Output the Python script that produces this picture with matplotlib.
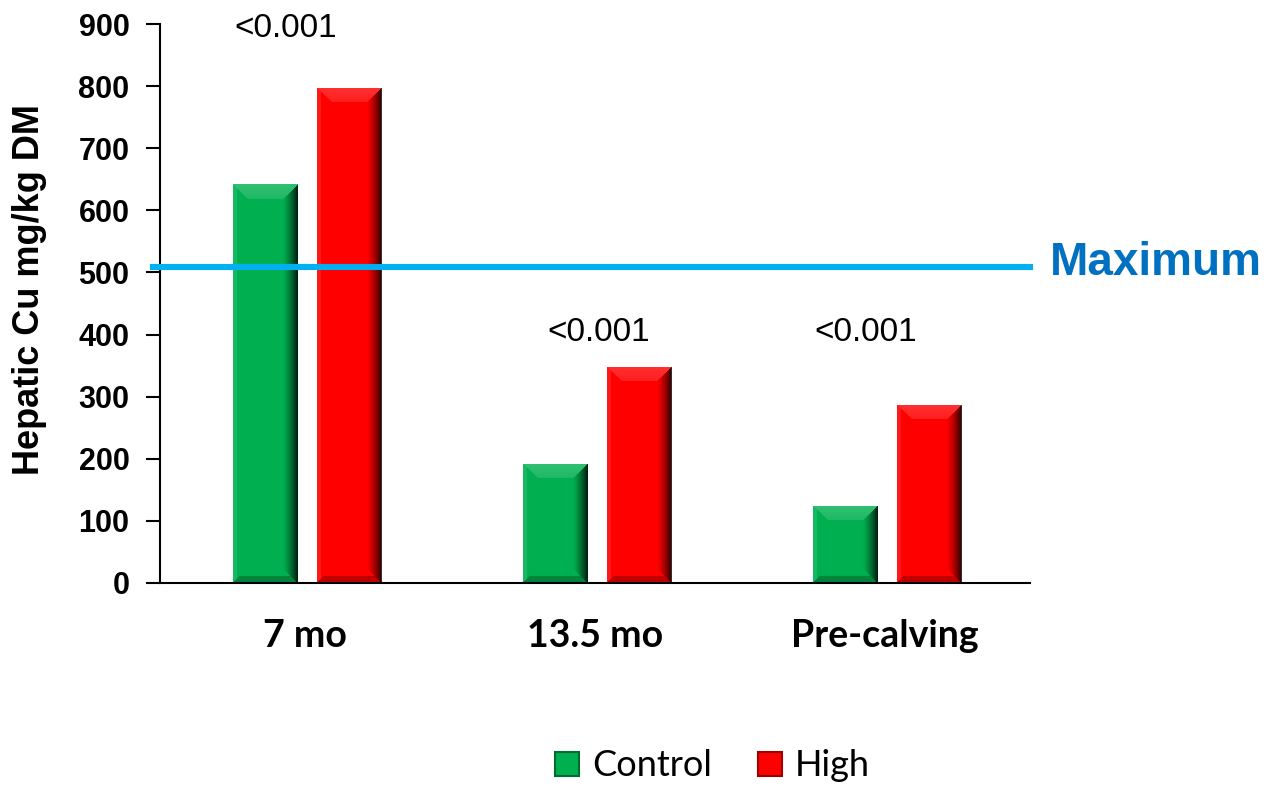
import matplotlib
matplotlib.use('Agg')
import matplotlib.pyplot as plt
from matplotlib.lines import Line2D
import numpy as np

plt.rcParams['font.family'] = ['Liberation Sans', 'DejaVu Sans']

# hepatic copper, mg/kg DM
stages = ['7 mo', '13.5 mo', 'Pre-calving']
control = [642, 192, 124]
high = [797, 348, 287]
p_values = ['<0.001', '<0.001', '<0.001']
maximum = 508
groups = ['Control', 'High']

GREEN = '#00B050'
RED = '#FF0000'


def bevel(ax, x0, width, height, z):
    # shaded edges laid over a bar: light top facet, dark right side and base
    x1 = x0 + width
    p0 = ax.transData.transform((x0, 0))
    p1 = ax.transData.transform((x1, height))
    wpx = max(int(round(p1[0] - p0[0])), 2)
    hpx = max(int(round(p1[1] - p0[1])), 2)
    xx, yy = np.meshgrid(np.arange(wpx) + 0.5, np.arange(hpx) + 0.5)
    dl, dr = xx, wpx - xx
    dt, db = yy, hpx - yy
    D = 15.0
    img = np.zeros((hpx, wpx, 4))
    top = (dt < D) & (dt <= dl) & (dt <= dr)
    right = ~top & (dr < D) & (dr <= db)
    bottom = ~top & ~right & (db < 7) & (db <= dl)
    left = ~top & ~right & ~bottom & (dl < 4)
    img[top, :3] = 1.0
    img[top, 3] = 0.12 + 0.08 * (1 - dt[top] / D)
    img[right, 3] = 0.85 * (1 - dr[right] / D) ** 1.3
    img[bottom, 3] = 0.25
    img[left, :3] = 1.0
    img[left, 3] = 0.10
    ax.imshow(img, extent=(x0, x1, 0, height), origin='upper',
              aspect='auto', interpolation='bilinear', zorder=z)


fig = plt.figure(figsize=(12.68, 7.88), dpi=100)
ax = fig.add_axes([160 / 1268, 1 - 583 / 788, 870 / 1268, 559 / 788])
ax.set_xlim(-0.5, len(stages) - 0.5)
ax.set_ylim(0, 900)

x = np.arange(len(stages))
off = 0.144
bw = 0.222
shift = 0.008
b1 = ax.bar(x + shift - off, control, bw, color=GREEN, zorder=2)
b2 = ax.bar(x + shift + off, high, bw, color=RED, zorder=2)
for bars in (b1, b2):
    for r in bars:
        bevel(ax, r.get_x(), r.get_width(), r.get_height(), 2.5)

ax.set_xlim(-0.5, len(stages) - 0.5)
ax.set_ylim(0, 900)

# maximum tolerable level
ax.axhline(maximum, xmin=-0.008, xmax=1.0, color='#00B0F0', lw=4.4,
           zorder=4, clip_on=False)
ax.text(1.023, maximum - 12, 'Maximum', transform=ax.get_yaxis_transform(),
        color='#0070C0', fontsize=33, fontweight='bold', va='baseline',
        ha='left')

p_pos = [(-0.066, 893), (0.014, 404), (-0.066, 404)]
for i, (dx, yy) in enumerate(p_pos):
    ax.text(x[i] + dx, yy, p_values[i], ha='center', va='center', fontsize=24)

for s in ('top', 'right'):
    ax.spines[s].set_visible(False)
for s in ('left', 'bottom'):
    ax.spines[s].set_linewidth(1.5)

ax.set_yticks(np.arange(0, 901, 100))
ax.tick_params(axis='y', length=10, width=1.5, pad=12, labelsize=22)
for t in ax.get_yticklabels():
    t.set_fontweight('bold')
ax.set_xticks(x)
ax.set_xticklabels(stages, fontsize=27, fontweight='bold', family='Lato')
ax.tick_params(axis='x', length=0, pad=26)

fig.text(30 / 1268, 1 - 290 / 788, 'Hepatic Cu mg/kg DM', rotation=90,
         ha='center', va='center', fontsize=26, fontweight='bold')

handles = [Line2D([], [], ls='none', marker='s', markersize=17,
                  markerfacecolor=c, markeredgecolor=e, markeredgewidth=1.5)
           for c, e in ((GREEN, '#006B30'), (RED, '#9A0000'))]
fig.legend(handles, groups, loc='center', ncol=2, frameon=False,
           bbox_to_anchor=(711 / 1268, 1 - 766 / 788),
           prop={'family': 'Lato', 'size': 26}, handlelength=0.8,
           handletextpad=0.3, columnspacing=1.2)

fig.savefig('out.png', dpi=100)
